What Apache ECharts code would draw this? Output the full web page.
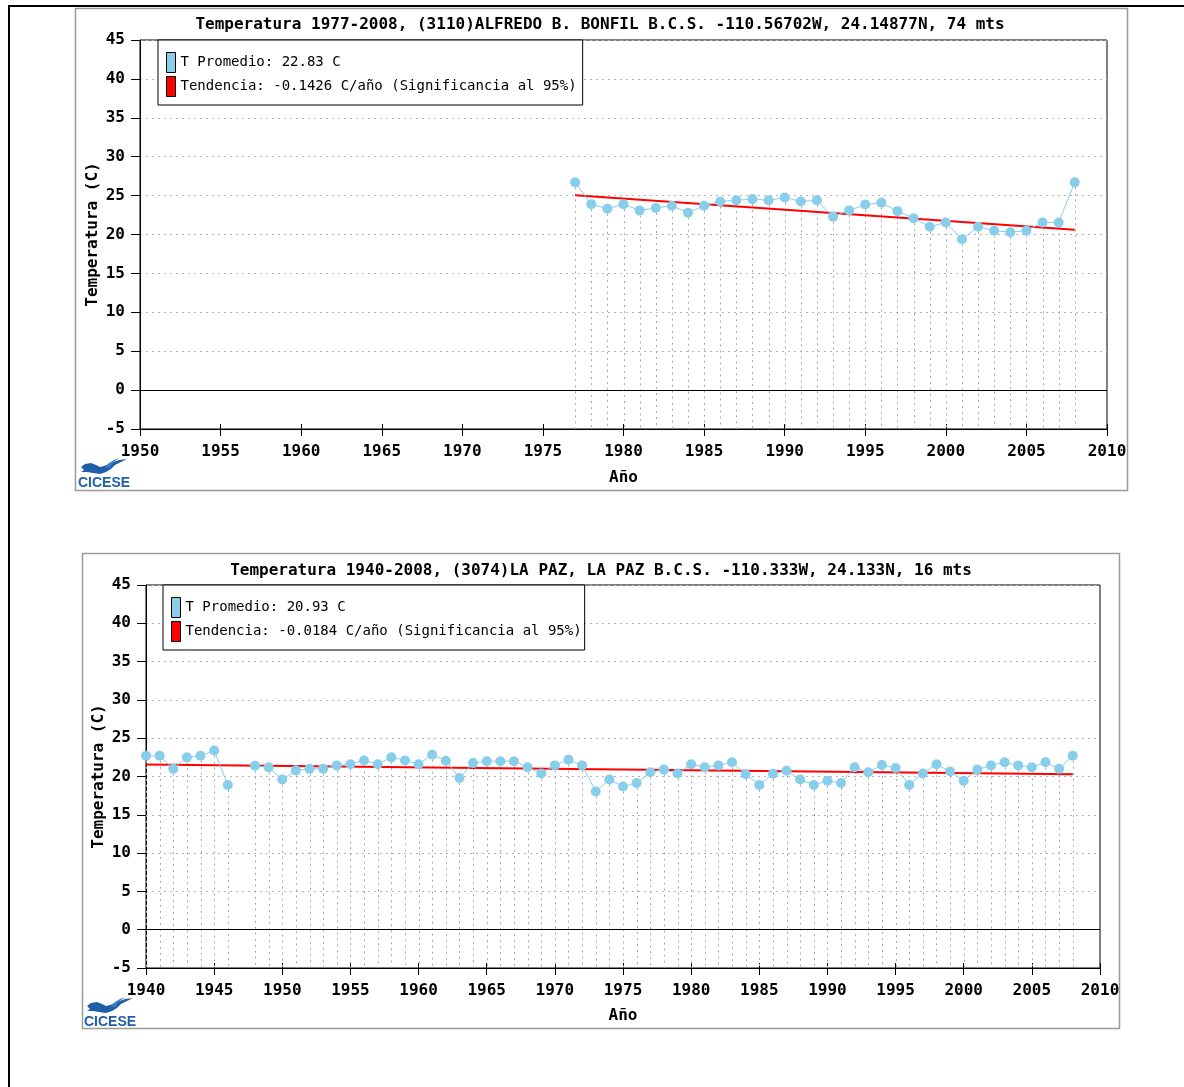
<!DOCTYPE html>
<html>
<head>
<meta charset="utf-8">
<script src="https://cdn.jsdelivr.net/npm/echarts@6/dist/echarts.min.js"></script>
<style>
html,body{margin:0;padding:0;background:#fff;}
#c{width:1184px;height:1087px;}
</style>
</head>
<body>
<div id="c"></div>
<script>
// ---------- DATA ----------
const titleA = 'Temperatura 1977-2008, (3110)ALFREDO B. BONFIL B.C.S. -110.56702W, 24.14877N, 74 mts';
const avgNameA = 'T Promedio: 22.83 C';
const trendNameA = 'Tendencia: -0.1426 C/año (Significancia al 95%)';
const yearsA = [1977,1978,1979,1980,1981,1982,1983,1984,1985,1986,1987,1988,1989,1990,1991,1992,
                1993,1994,1995,1996,1997,1998,1999,2000,2001,2002,2003,2004,2005,2006,2007,2008];
const tempA  = [26.7,23.9,23.3,23.9,23.1,23.4,23.7,22.8,23.7,24.25,24.4,24.55,24.4,24.75,24.25,24.4,
                22.3,23.1,23.85,24.1,23.0,22.1,21.0,21.55,19.4,21.0,20.5,20.3,20.5,21.55,21.55,26.7];
const trendYearsA = [1977, 2008];
const trendA      = [25.04, 20.62];
const xRangeA = [1950, 2010];

const titleB = 'Temperatura 1940-2008, (3074)LA PAZ, LA PAZ B.C.S. -110.333W, 24.133N, 16 mts';
const avgNameB = 'T Promedio: 20.93 C';
const trendNameB = 'Tendencia: -0.0184 C/año (Significancia al 95%)';
const yearsB = [1940,1941,1942,1943,1944,1945,1946,1947,1948,1949,1950,1951,1952,1953,1954,1955,1956,1957,
                1958,1959,1960,1961,1962,1963,1964,1965,1966,1967,1968,1969,1970,1971,1972,1973,1974,1975,
                1976,1977,1978,1979,1980,1981,1982,1983,1984,1985,1986,1987,1988,1989,1990,1991,1992,1993,
                1994,1995,1996,1997,1998,1999,2000,2001,2002,2003,2004,2005,2006,2007,2008];
const tempB  = [22.7,22.7,21.0,22.5,22.7,23.4,18.9,null,21.4,21.2,19.6,20.8,21.0,21.0,21.45,21.6,22.1,21.6,
                22.5,22.1,21.6,22.85,22.05,19.8,21.75,22.0,22.0,22.0,21.2,20.4,21.45,22.2,21.45,18.05,19.6,18.7,
                19.15,20.55,20.9,20.4,21.6,21.2,21.45,21.85,20.3,18.9,20.35,20.75,19.6,18.9,19.45,19.15,21.2,20.55,
                21.5,21.1,18.9,20.4,21.6,20.65,19.45,20.9,21.45,21.85,21.45,21.2,21.85,21.0,22.7];
const trendYearsB = [1940, 2008];
const trendB      = [21.56, 20.31];
const xRangeB = [1940, 2010];

const yRange = [-5, 45];
const xStep = 5, yStep = 5;
const yName = 'Temperatura (C)';
const xName = 'Año';

// ---------- STYLE ----------
const MONO = '"DejaVu Sans Mono","Liberation Mono",monospace';
const BLUE = '#87ceeb';
const RED = '#ff0000';
const boldText = {fontFamily: MONO, fontWeight: 'bold', fontSize: 16, color: '#000'};

function pairs(xs, ys){ return xs.map((x,i)=>[x, ys[i]]); }

function dropRender(params, api){
  const v = api.value(1);
  if (v === null || v === undefined || isNaN(v)) return;
  const x = api.value(0);
  const p1 = api.coord([x, v]);
  const p2 = api.coord([x, yRange[0]]);
  const px = Math.round(p1[0]) + 0.5;
  return {type:'line', shape:{x1:px, y1:p1[1]+5, x2:px, y2:p2[1]},
          style:{stroke:'#a8a8a8', lineWidth:1, lineDash:[2,4]}, silent:true};
}

function makeAxes(gi, xr, xNameGap, yNameGap){
  const xs = [
    {gridIndex:gi, type:'value', min:xr[0], max:xr[1], interval:xStep,
     axisLine:{show:true, onZero:false, lineStyle:{color:'#000', width:1}},
     axisTick:{show:true, length:7, lineStyle:{color:'#000'}},
     axisLabel:Object.assign({margin:15, formatter:v=>String(v)}, boldText),
     splitLine:{show:false},
     name:xName, nameLocation:'middle', nameGap:xNameGap, nameTextStyle:boldText},
    {gridIndex:gi, type:'value', min:xr[0], max:xr[1], interval:xStep, position:'bottom',
     axisLine:{show:false, onZero:false}, axisTick:{show:true, inside:true, length:5, lineStyle:{color:'#000'}},
     axisLabel:{show:false}, splitLine:{show:false}}
  ];
  const ys = [
    {gridIndex:gi, type:'value', min:yRange[0], max:yRange[1], interval:yStep,
     axisLine:{show:true, onZero:false, lineStyle:{color:'#000', width:1}},
     axisTick:{show:true, length:9, lineStyle:{color:'#000'}},
     axisLabel:Object.assign({margin:15}, boldText),
     splitLine:{show:true, lineStyle:{color:'#b4b4b4', width:1, type:[2,4]}},
     name:yName, nameLocation:'middle', nameGap:yNameGap, nameRotate:90, nameMoveOverlap:false,
     nameTextStyle:boldText}
  ];
  return {xs, ys};
}

const axA = makeAxes(0, xRangeA, 41, 39);
const axB = makeAxes(1, xRangeB, 40, 39);

function makeLegend(left, top, padRight, avgName, trendName){
  return {
    left:left, top:top, orient:'vertical', selectedMode:false,
    data:[
      {name:avgName, icon:'rect', itemStyle:{color:BLUE, borderColor:'#000', borderWidth:1}},
      {name:trendName, icon:'rect', itemStyle:{color:RED, borderColor:'#000', borderWidth:1}}
    ],
    itemWidth:9, itemHeight:20, itemGap:3,
    padding:[12,padRight,8,8],
    backgroundColor:'#fff', borderColor:'#000', borderWidth:1,
    textStyle:{fontFamily:MONO, fontSize:14, color:'#000'}
  };
}

function makeSeries(xi, yi, years, temps, tYears, trend, avgName, trendName){
  return [
    {type:'custom', xAxisIndex:xi, yAxisIndex:yi, data:pairs(years, temps),
     renderItem:dropRender, z:1, silent:true, clip:true},
    {type:'line', name:trendName, xAxisIndex:xi, yAxisIndex:yi, data:pairs(tYears, trend),
     symbol:'none', lineStyle:{color:RED, width:2}, itemStyle:{color:RED}, z:2, silent:true,
     markLine:{silent:true, symbol:'none', label:{show:false},
               lineStyle:{color:'#000', width:1, type:'solid'}, data:[{yAxis:0}]}},
    {type:'line', name:avgName, xAxisIndex:xi, yAxisIndex:yi, data:pairs(years, temps),
     connectNulls:false, symbol:'circle', symbolSize:10, showSymbol:true,
     lineStyle:{color:BLUE, width:1}, itemStyle:{color:BLUE}, z:3, silent:true}
  ];
}

function logo(x, y){
  return {type:'group', x:x, y:y, children:[
    {type:'polygon', shape:{points:[[2,9],[6,6],[12,5],[17,7],[21,9],[25,8],[32,5],[40,2],[48,1],[42,4],[36,7],[32,11],[27,14],[21,16],[14,15],[8,14],[2,14],[5,12]]},
     style:{fill:'#1f5fa8'}},
    {type:'polygon', shape:{points:[[26,9],[30,5],[35,2],[40,0],[36,3],[33,6],[30,10]]}, style:{fill:'#3f7fc4'}},
    {type:'text', x:-1, y:18, style:{text:'CICESE', fill:'#1f5fa8', font:'bold 14px "Liberation Sans",Arial,sans-serif'}}
  ]};
}

const chart = echarts.init(document.getElementById('c'), null, {renderer:'canvas'});
chart.setOption({
  animation:false,
  backgroundColor:'#fff',
  title:[
    {text:titleA, left:600, top:17, textAlign:'center', padding:0, textStyle:boldText},
    {text:titleB, left:601, top:563, textAlign:'center', padding:0, textStyle:boldText}
  ],
  legend:[makeLegend(158, 40, 6, avgNameA, trendNameA), makeLegend(163, 585, 3, avgNameB, trendNameB)],
  grid:[
    {left:140, top:40, width:967, height:389, show:true, borderColor:'#000', borderWidth:1, backgroundColor:'transparent'},
    {left:146, top:585, width:954, height:383, show:true, borderColor:'#000', borderWidth:1, backgroundColor:'transparent'}
  ],
  xAxis: axA.xs.concat(axB.xs),
  yAxis: axA.ys.concat(axB.ys),
  series: makeSeries(0,0,yearsA,tempA,trendYearsA,trendA,avgNameA,trendNameA)
          .concat(makeSeries(2,1,yearsB,tempB,trendYearsB,trendB,avgNameB,trendNameB)),
  graphic:[
    {type:'line', shape:{x1:8, y1:6, x2:1184, y2:6}, style:{stroke:'#000', lineWidth:2}, z:-1},
    {type:'line', shape:{x1:9, y1:5, x2:9, y2:1087}, style:{stroke:'#000', lineWidth:2}, z:-1},
    {type:'rect', shape:{x:75.5, y:8.5, width:1052, height:482}, style:{fill:null, stroke:'#9a9a9a', lineWidth:1.5}, z:-1},
    {type:'rect', shape:{x:82.5, y:553.5, width:1037, height:475}, style:{fill:null, stroke:'#9a9a9a', lineWidth:1.5}, z:-1},
    logo(79, 458),
    logo(85, 997)
  ]
});
</script>
</body>
</html>
